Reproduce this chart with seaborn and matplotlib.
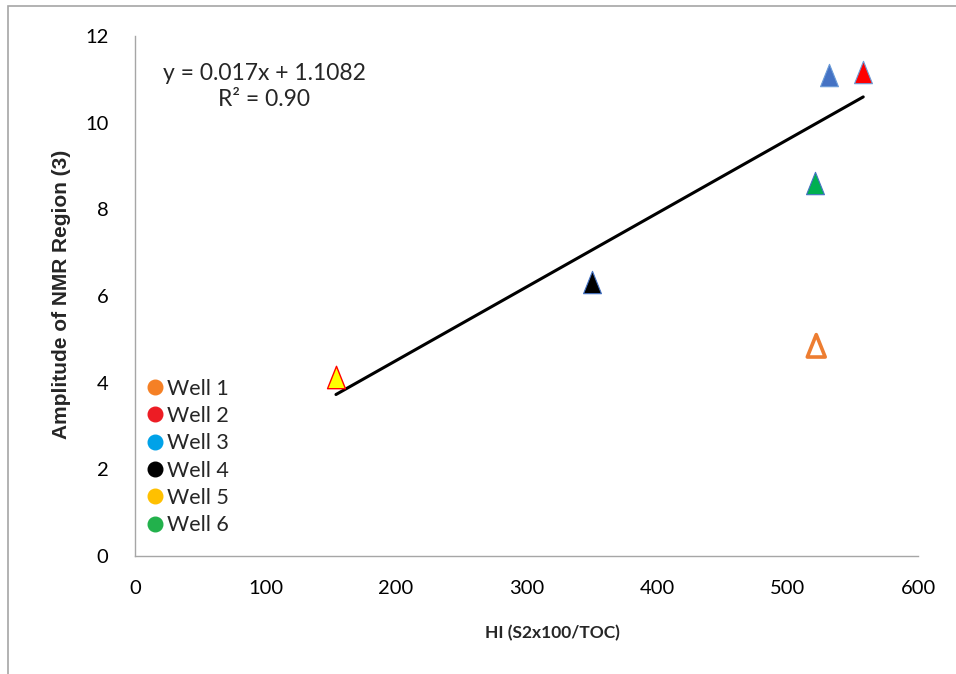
import matplotlib
matplotlib.use("Agg")
import matplotlib.pyplot as plt
from matplotlib.lines import Line2D
from matplotlib.patches import Rectangle
from matplotlib.path import Path
import numpy as np
import pandas as pd
import seaborn as sns

# Well measurements: hydrogen index vs. amplitude of NMR region 3
wells = ["Well 1", "Well 2", "Well 3", "Well 4", "Well 5", "Well 6"]
hi_values = [522, 558, 532, 350, 154, 521]
nmr_amplitude = [4.85, 11.17, 11.1, 6.32, 4.13, 8.6]

# Marker styling per well
face_colors = ["none", "#FF0000", "#4472C4", "#000000", "#FFFF00", "#00B050"]
edge_colors = ["#ED7D31", "#6A9BD8", "#6A9BD8", "#4472C4", "#FF0000", "#4472C4"]
edge_widths = [2.6, 0.8, 0.8, 0.8, 1.0, 0.8]

# Legend swatch colours
legend_colors = ["#F58025", "#ED1C24", "#00A2E8", "#000000", "#FFC000", "#22B14C"]

# Linear trend
slope, intercept = 0.017, 1.1082
r_squared = 0.90

sns.set_theme(style="white")
plt.rcParams["font.family"] = ["Lato", "DejaVu Sans"]

df = pd.DataFrame({"well": wells, "hi": hi_values, "amp": nmr_amplitude})

fig = plt.figure(figsize=(9.56, 6.74), dpi=100)
ax = fig.add_axes([0.1412, 0.1751, 0.8191, 0.7715])

# Outer chart frame
fig.patches.append(Rectangle((8 / 956, -0.1), 1.2, (674 - 6) / 674 + 0.1,
                             transform=fig.transFigure, fill=False,
                             edgecolor="#A6A6A6", linewidth=1.2))

# Trendline across the range of the data
x_fit = np.array([min(hi_values), max(hi_values)])
trend = pd.DataFrame({"x": x_fit, "y": slope * x_fit + intercept})
sns.lineplot(data=trend, x="x", y="y", ax=ax, color="black", linewidth=2.2)

# Slightly narrow, closed triangle marker
tri = Path([(-0.4, -0.5), (0.4, -0.5), (0.0, 0.5), (-0.4, -0.5)],
           [Path.MOVETO, Path.LINETO, Path.LINETO, Path.CLOSEPOLY])
for i in range(len(df)):
    sns.scatterplot(data=df.iloc[[i]], x="hi", y="amp", ax=ax, marker=tri,
                    s=260, facecolor=face_colors[i], edgecolor=edge_colors[i],
                    linewidth=edge_widths[i], zorder=3)

ax.set_xlim(0, 600)
ax.set_ylim(0, 12)
ax.set_xticks(np.arange(0, 601, 100))
ax.set_yticks(np.arange(0, 13, 2))
ax.tick_params(axis="both", length=0, labelsize=14.5, colors="black")
ax.tick_params(axis="y", pad=19)
ax.tick_params(axis="x", pad=17)

for side in ["top", "right"]:
    ax.spines[side].set_visible(False)
for side in ["left", "bottom"]:
    ax.spines[side].set_color("#A6A6A6")
    ax.spines[side].set_linewidth(1.0)

ax.set_xlabel("")
ax.set_ylabel("")
fig.text(552 / 956, 1 - 633 / 674, "HI (S2x100/TOC)", ha="center", va="center",
         fontsize=12.5, fontweight="bold")
fig.text(62 / 956, 1 - 294 / 674, "Amplitude of NMR Region (3)", ha="center",
         va="center", rotation=90, fontsize=15, fontweight="bold",
         family=["Liberation Sans", "DejaVu Sans"])

ax.text(0.165, 0.903, f"y = {slope}x + {intercept}\nR² = {r_squared:.2f}",
        transform=ax.transAxes, ha="center", va="center", multialignment="center",
        fontsize=16.5, linespacing=1.32)

handles = [Line2D([0], [0], marker="o", linestyle="none", markersize=10.5,
                  markerfacecolor=c, markeredgecolor=c, label=w)
           for w, c in zip(wells, legend_colors)]
ax.legend(handles=handles, loc="lower left", bbox_to_anchor=(-0.005, 0.015),
          frameon=False, fontsize=15.5, handletextpad=0.05, labelspacing=0.34,
          borderaxespad=0.2, handlelength=1.0)

fig.savefig("out.png", dpi=100)
